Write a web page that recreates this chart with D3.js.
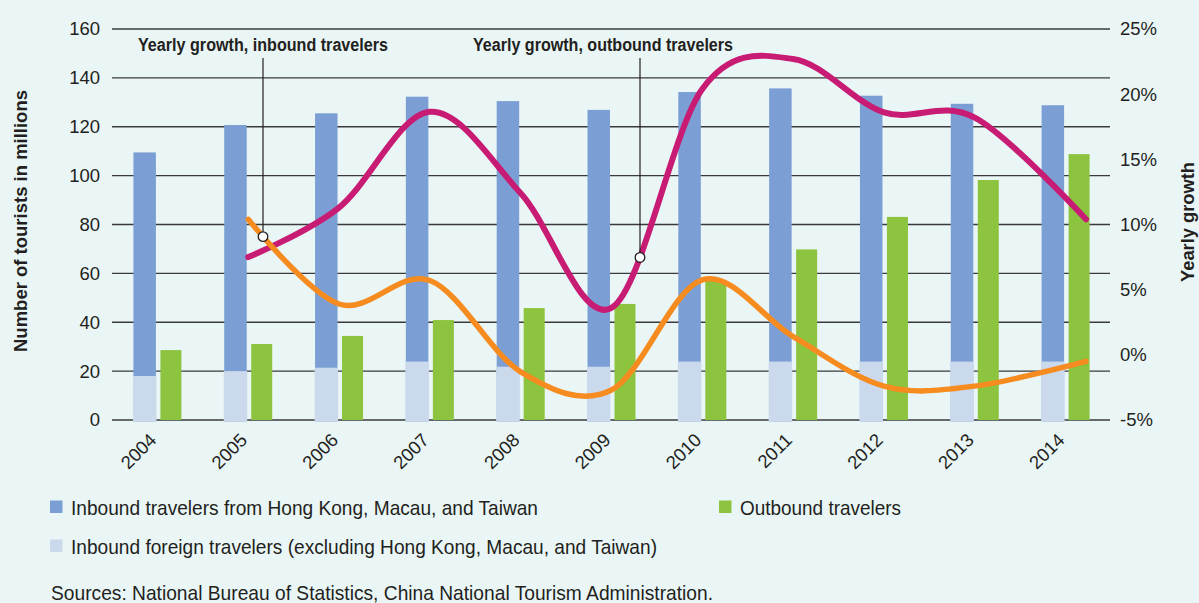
<!DOCTYPE html>
<html>
<head>
<meta charset="utf-8">
<script src="https://cdn.jsdelivr.net/npm/d3@7"></script>
<style>
  html, body { margin: 0; padding: 0; background: #EAF6F6; }
  svg { display: block; }
  text { font-family: "Liberation Sans", Arial, sans-serif; fill: #231F20; }
</style>
</head>
<body>
<svg id="chart" width="1199" height="603"></svg>
<script>
// ---------- data ----------
const years = [2004, 2005, 2006, 2007, 2008, 2009, 2010, 2011, 2012, 2013, 2014];
// Total inbound travelers (top of stacked bar), millions
const inboundTotal = [109.5, 120.7, 125.5, 132.3, 130.5, 126.9, 134.2, 135.7, 132.7, 129.4, 128.8];
// Inbound foreign travelers (excluding HK, Macau, Taiwan), millions
const inboundForeign = [18.0, 20.0, 21.4, 23.9, 21.8, 21.8, 23.9, 23.9, 23.9, 23.9, 23.9];
// Outbound travelers, millions
const outbound = [28.6, 31.1, 34.4, 40.9, 45.8, 47.5, 57.2, 69.8, 83.1, 98.2, 108.8];
// Yearly growth (%), 2005-2014
const growthYears = [2005, 2006, 2007, 2008, 2009, 2010, 2011, 2012, 2013, 2014];
const growthInbound = [10.4, 3.9, 5.7, -1.3, -2.7, 5.75, 1.4, -2.4, -2.4, -0.5];
const growthOutbound = [7.5, 11.3, 18.65, 12.4, 3.6, 20.4, 22.7, 18.6, 18.2, 10.4];
const leftTicks = [0, 20, 40, 60, 80, 100, 120, 140, 160];
const rightTicks = [-5, 0, 5, 10, 15, 20, 25];

const colors = {
  hk: "#7B9FD4", foreign: "#CBD9EC", out: "#8CC43F",
  gOut: "#C81B73", gIn: "#F68B1F", grid: "#3A3A3A"
};

const svg = d3.select("#chart");
const L = 112, R = 1111, T = 29, B = 420;

const x = d3.scaleBand().domain(years).range([L, R]).padding(0);
const c = d => x(d) + x.bandwidth() / 2;
// growth line positions: at band centres, last point extended to the right edge of the last bar group
const xg = d3.scaleLinear().domain([2005, 2013, 2014]).range([c(2005), c(2013), 1086]);
const y = d3.scaleLinear().domain([0, 160]).range([B, T]);
const yr = d3.scaleLinear().domain([-5, 25]).range([B, T]);

function fit(sel, w) {
  sel.attr("textLength", w).attr("lengthAdjust", "spacingAndGlyphs");
  return sel;
}

// grid
svg.append("g").selectAll("line").data(leftTicks).join("line")
  .attr("x1", L).attr("x2", 1110)
  .attr("y1", d => y(d)).attr("y2", d => y(d))
  .attr("stroke", colors.grid).attr("stroke-width", 1.4);

// left axis labels
svg.append("g").selectAll("text").data(leftTicks).join("text")
  .attr("x", 100).attr("y", d => y(d)).attr("dy", "0.35em")
  .attr("text-anchor", "end").attr("font-size", 18.5).text(d => d);

// right axis labels
svg.append("g").selectAll("text").data(rightTicks).join("text")
  .attr("x", 1120).attr("y", d => yr(d)).attr("dy", "0.35em")
  .attr("text-anchor", "start").attr("font-size", 18.5).text(d => d + "%");

// bars
const bars = svg.append("g");
bars.selectAll("rect.hk").data(years).join("rect").attr("class", "hk")
  .attr("x", d => c(d) - 24).attr("width", 22.5)
  .attr("y", (d, i) => y(inboundTotal[i]))
  .attr("height", (d, i) => y(0) + 1.5 - y(inboundTotal[i]))
  .attr("fill", colors.hk);
bars.selectAll("rect.fo").data(years).join("rect").attr("class", "fo")
  .attr("x", d => c(d) - 24.5).attr("width", 23.5)
  .attr("y", (d, i) => y(inboundForeign[i]))
  .attr("height", (d, i) => y(0) + 1.5 - y(inboundForeign[i]))
  .attr("fill", colors.foreign);
bars.selectAll("rect.out").data(years).join("rect").attr("class", "out")
  .attr("x", d => c(d) + 3).attr("width", 21)
  .attr("y", (d, i) => y(outbound[i]))
  .attr("height", (d, i) => y(0) - y(outbound[i]))
  .attr("fill", colors.out);

// x labels
svg.append("g").selectAll("text").data(years).join("text")
  .attr("transform", d => `translate(${c(d) - 9},${432}) rotate(-45)`)
  .attr("text-anchor", "end").attr("dy", "0.7em")
  .attr("font-size", 18.5).text(d => d);

// growth lines
const line = d3.line().curve(d3.curveCardinal.tension(0));
const ptsOut = growthYears.map((g, i) => [xg(g), yr(growthOutbound[i])]);
const ptsIn = growthYears.map((g, i) => [xg(g), yr(growthInbound[i])]);
const pathOut = svg.append("path").attr("d", line(ptsOut))
  .attr("fill", "none").attr("stroke", colors.gOut).attr("stroke-width", 6).attr("stroke-linecap", "round");
const pathIn = svg.append("path").attr("d", line(ptsIn))
  .attr("fill", "none").attr("stroke", colors.gIn).attr("stroke-width", 5.5).attr("stroke-linecap", "round");

function yAtX(pathNode, px) {
  const len = pathNode.getTotalLength();
  let lo = 0, hi = len;
  for (let k = 0; k < 40; k++) {
    const mid = (lo + hi) / 2;
    const p = pathNode.getPointAtLength(mid);
    if (p.x < px) lo = mid; else hi = mid;
  }
  return pathNode.getPointAtLength((lo + hi) / 2).y;
}

// annotations
const annos = [
  { text: "Yearly growth, inbound travelers", tx: 263, lx: 263, w: 250, path: pathIn },
  { text: "Yearly growth, outbound travelers", tx: 603, lx: 640, w: 260, path: pathOut }
];
annos.forEach(a => {
  const py = yAtX(a.path.node(), a.lx);
  svg.append("line").attr("x1", a.lx).attr("x2", a.lx).attr("y1", 58).attr("y2", py)
    .attr("stroke", "#231F20").attr("stroke-width", 1.2);
  svg.append("circle").attr("cx", a.lx).attr("cy", py).attr("r", 4.8)
    .attr("fill", "#fff").attr("stroke", "#231F20").attr("stroke-width", 1.3);
  fit(svg.append("text").attr("x", a.tx).attr("y", 51).attr("text-anchor", "middle")
    .attr("font-size", 18).attr("font-weight", "bold").text(a.text), a.w);
});

// axis titles
fit(svg.append("text").attr("transform", `translate(27,221) rotate(-90)`)
  .attr("text-anchor", "middle").attr("font-size", 18).attr("font-weight", "bold")
  .text("Number of tourists in millions"), 262);
fit(svg.append("text").attr("transform", `translate(1194,222) rotate(-90)`)
  .attr("text-anchor", "middle").attr("font-size", 18).attr("font-weight", "bold")
  .text("Yearly growth"), 120);

// legend
const legend = [
  { label: "Inbound travelers from Hong Kong, Macau, and Taiwan", color: colors.hk, x: 50, y: 507, w: 467 },
  { label: "Outbound travelers", color: colors.out, x: 719, y: 507, w: 161 },
  { label: "Inbound foreign travelers (excluding Hong Kong, Macau, and Taiwan)", color: colors.foreign, x: 50, y: 546, w: 586 }
];
const lg = svg.append("g").selectAll("g").data(legend).join("g")
  .attr("transform", d => `translate(${d.x},${d.y})`);
lg.append("rect").attr("x", 0).attr("y", -6.5).attr("width", 12.5).attr("height", 12.5).attr("fill", d => d.color);
lg.append("text").attr("x", 21).attr("y", 7.5).attr("font-size", 21)
  .attr("textLength", d => d.w).attr("lengthAdjust", "spacingAndGlyphs").text(d => d.label);

fit(svg.append("text").attr("x", 51).attr("y", 600).attr("font-size", 21)
  .text("Sources: National Bureau of Statistics, China National Tourism Administration."), 662);
</script>
</body>
</html>
